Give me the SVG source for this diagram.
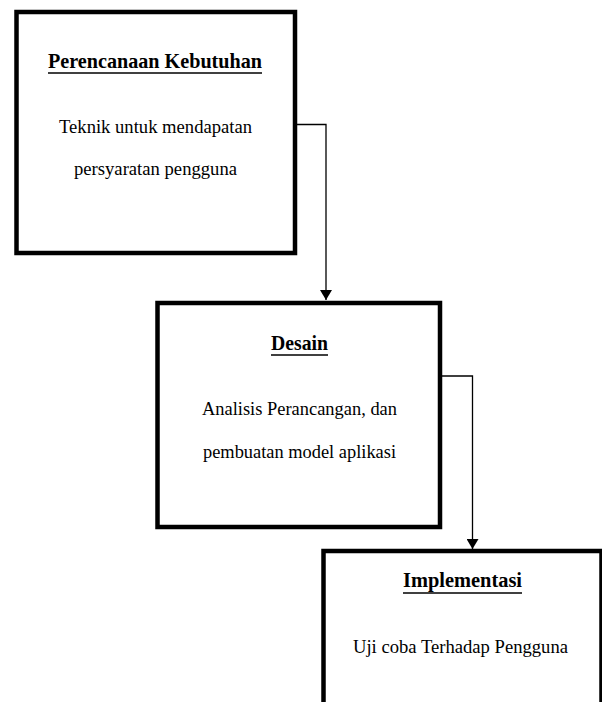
<svg xmlns="http://www.w3.org/2000/svg" width="602" height="702" viewBox="0 0 602 702">
<style>
.box{fill:#fff;stroke:#000;stroke-width:4.5}
.title{font-family:"Liberation Serif","Times New Roman",Times,serif;font-weight:bold;font-size:21px;fill:#000}
.body{font-family:"Liberation Serif","Times New Roman",Times,serif;font-size:18px;fill:#000}
.ul{stroke:#000;stroke-width:1.3}
.conn{fill:none;stroke:#000;stroke-width:1.3}
</style>
<defs>
<marker id="arrow" viewBox="0 0 10 12" refX="10" refY="6" markerWidth="10" markerHeight="12" markerUnits="userSpaceOnUse" orient="auto">
<path d="M0,0 L10,6 L0,12 Z" fill="#000"/>
</marker>
</defs>
<rect width="602" height="702" fill="#fff"/>
<g id="connectors">
<path class="conn" d="M295,124.5 H326 V300" marker-end="url(#arrow)"/>
<path class="conn" d="M440,376 H472.5 V549" marker-end="url(#arrow)"/>
</g>
<g id="node-perencanaan">
<rect class="box" x="16.5" y="12" width="278.5" height="241"/>
<text class="title" x="48" y="68" textLength="214" lengthAdjust="spacingAndGlyphs">Perencanaan Kebutuhan</text>
<line class="ul" x1="48" y1="73" x2="262" y2="73"/>
<text class="body" x="59" y="132.5" textLength="193" lengthAdjust="spacingAndGlyphs">Teknik untuk mendapatan</text>
<text class="body" x="74" y="175" textLength="163" lengthAdjust="spacingAndGlyphs">persyaratan pengguna</text>
</g>
<g id="node-desain">
<rect class="box" x="157.5" y="303" width="282.5" height="224"/>
<text class="title" x="271" y="350" textLength="57" lengthAdjust="spacingAndGlyphs">Desain</text>
<line class="ul" x1="271" y1="355" x2="328" y2="355"/>
<text class="body" x="202" y="415" textLength="195" lengthAdjust="spacingAndGlyphs">Analisis Perancangan, dan</text>
<text class="body" x="203" y="458" textLength="193" lengthAdjust="spacingAndGlyphs">pembuatan model aplikasi</text>
</g>
<g id="node-implementasi">
<rect class="box" x="323.5" y="551" width="278" height="200"/>
<text class="title" x="403" y="587" textLength="119" lengthAdjust="spacingAndGlyphs">Implementasi</text>
<line class="ul" x1="403" y1="593" x2="522" y2="593"/>
<text class="body" x="353" y="653" textLength="215" lengthAdjust="spacingAndGlyphs">Uji coba Terhadap Pengguna</text>
</g>
</svg>
